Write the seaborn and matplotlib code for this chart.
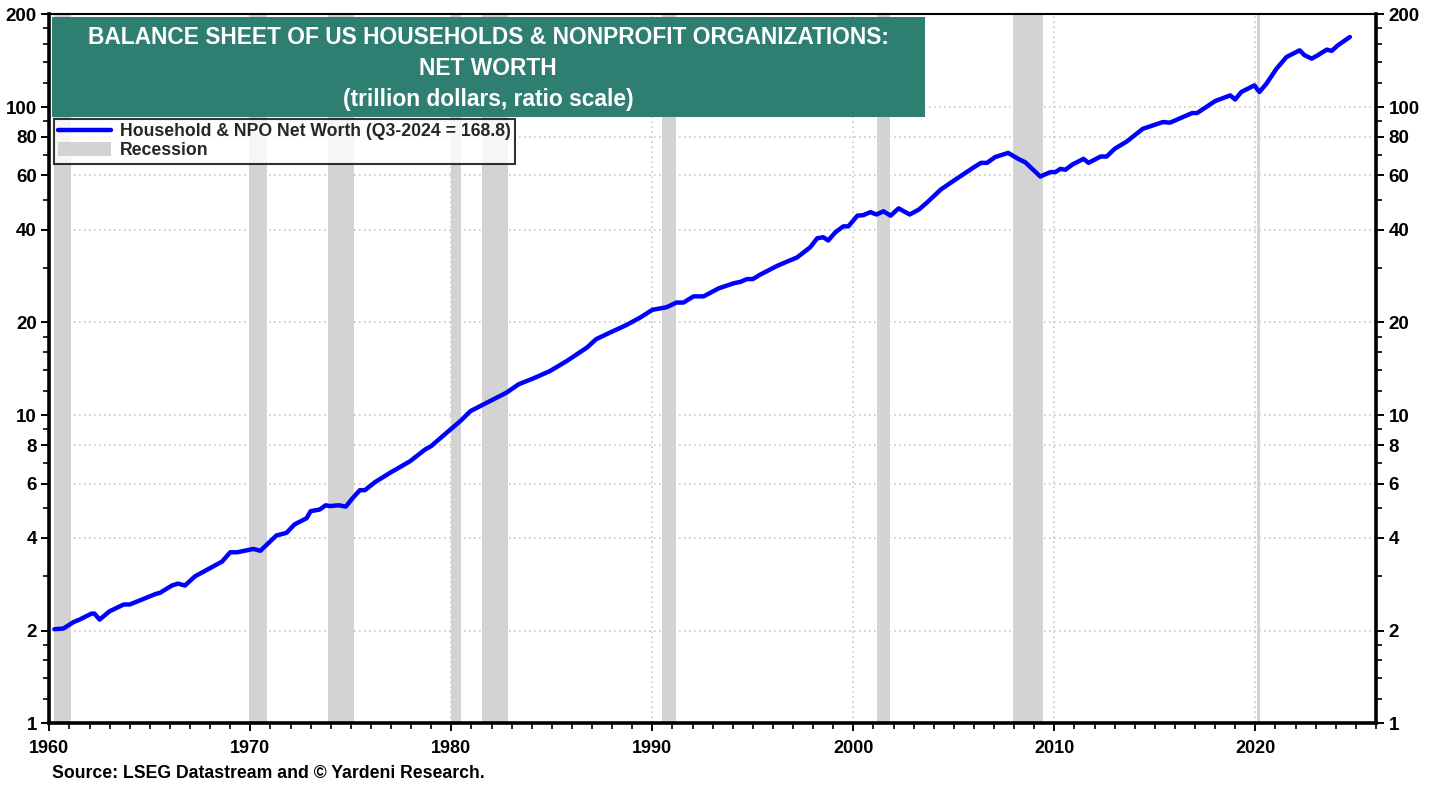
import numpy as np
import pandas as pd
import matplotlib
matplotlib.use("Agg")
from matplotlib import pyplot as plt
from matplotlib.lines import Line2D
from matplotlib.patches import Patch, Rectangle
from matplotlib.ticker import FixedLocator, FixedFormatter, NullFormatter
import seaborn as sns

# quarterly-ish readings (decimal year, trillion $)
dates = [
    1960.25, 1960.7, 1961.2, 1961.5, 1962.1, 1962.25, 1962.5, 1963.0, 1963.7, 1964.0,
    1965.3, 1965.5, 1966.1, 1966.4, 1966.75, 1967.25, 1968.15, 1968.6, 1969.0, 1969.35,
    1970.15, 1970.5, 1971.3, 1971.8, 1972.2, 1972.8, 1973.0, 1973.45, 1973.75, 1973.95,
    1974.4, 1974.75, 1975.1, 1975.45, 1975.7, 1976.2, 1976.95, 1977.95, 1978.7, 1979.0, 1979.8,
    1980.45, 1980.95, 1981.6, 1982.1, 1982.75, 1983.35, 1984.1, 1984.9, 1985.75, 1986.75,
    1987.2, 1987.9, 1988.7, 1989.4,
    1990.0, 1990.7, 1991.2, 1991.55, 1992.05, 1992.55, 1993.3, 1994.05, 1994.4, 1994.7,
    1995.0, 1995.35, 1996.2, 1996.7, 1997.2, 1997.85, 1998.2, 1998.5, 1998.75, 1999.1,
    1999.5, 1999.75,
    2000.2, 2000.5, 2000.85, 2001.15, 2001.5, 2001.85, 2002.25, 2002.8, 2003.25, 2003.65,
    2004.35, 2005.0, 2006.0, 2006.35, 2006.65, 2007.05, 2007.7, 2008.2, 2008.55, 2009.3, 2009.8,
    2010.05, 2010.3, 2010.55, 2010.9, 2011.45, 2011.7, 2012.3, 2012.6, 2013.0, 2013.6,
    2014.4, 2015.4, 2015.75, 2016.4, 2016.85, 2017.1, 2017.6, 2018.0, 2018.75, 2018.99,
    2019.3, 2019.95,
    2020.2, 2020.55, 2021.05, 2021.55, 2022.2, 2022.45, 2022.8, 2023.1, 2023.55, 2023.8,
    2024.1, 2024.7,
]
net_worth = [
    2.02, 2.03, 2.13, 2.17, 2.27, 2.27, 2.17, 2.31, 2.43, 2.43,
    2.63, 2.65, 2.80, 2.84, 2.80, 3.00, 3.23, 3.35, 3.59, 3.59,
    3.68, 3.63, 4.07, 4.15, 4.42, 4.63, 4.88, 4.94, 5.10, 5.07,
    5.10, 5.05, 5.39, 5.71, 5.71, 6.06, 6.50, 7.09, 7.74, 7.94, 8.81,
    9.57, 10.31, 10.84, 11.26, 11.84, 12.6, 13.18, 13.9, 15.0, 16.58,
    17.64, 18.55, 19.6, 20.75,
    21.97, 22.4, 23.2, 23.2, 24.3, 24.3, 25.8, 26.8, 27.1, 27.65,
    27.65, 28.55, 30.5, 31.5, 32.5, 35.05, 37.5, 37.8, 36.9, 39.2,
    41.0, 41.0,
    44.4, 44.6, 45.6, 44.8, 45.9, 44.4, 46.9, 44.8, 46.45, 48.9,
    54.0, 57.7, 63.8, 65.9, 65.9, 68.8, 71.0, 67.9, 66.2, 59.5, 61.5,
    61.5, 63.0, 62.6, 65.1, 67.9, 65.9, 69.1, 69.1, 73.2, 77.3,
    85.0, 89.4, 89.0, 92.8, 95.6, 95.6, 100.5, 104.6, 109.1, 105.8,
    111.9, 117.6,
    111.9, 119.1, 133.2, 145.4, 152.8, 147.2, 143.6, 147.2, 153.6, 152.2,
    158.6, 168.8,
]

recession_start = [1960.25, 1969.95, 1973.85, 1980.0, 1981.55, 1990.5, 2001.17, 2007.95, 2020.08]
recession_end = [1961.08, 1970.83, 1975.17, 1980.5, 1982.83, 1991.17, 2001.83, 2009.42, 2020.25]

y_ticks = [1, 2, 4, 6, 8, 10, 20, 40, 60, 80, 100, 200]
y_minor = [1.2, 1.4, 1.6, 1.8, 3, 5, 7, 9, 12, 14, 16, 18, 30, 50, 70, 90,
           120, 140, 160, 180]
x_ticks = [1960, 1970, 1980, 1990, 2000, 2010, 2020]

title_lines = ["BALANCE SHEET OF US HOUSEHOLDS & NONPROFIT ORGANIZATIONS:",
               "NET WORTH",
               "(trillion dollars, ratio scale)"]
line_label = "Household & NPO Net Worth (Q3-2024 = 168.8)"

df = pd.DataFrame({"date": dates, "value": net_worth})

sns.set_style("white")
plt.rcParams["font.family"] = ["Liberation Sans", "DejaVu Sans"]
plt.rcParams["font.weight"] = "bold"

fig = plt.figure(figsize=(14.38, 7.87), dpi=100)
ax = fig.add_axes([49.3 / 1438, 1 - 723.3 / 787, 1326.7 / 1438, 709 / 787])

# recession shading
for s, e in zip(recession_start, recession_end):
    ax.axvspan(s, e, color="#d3d3d3", lw=0, zorder=1)

sns.lineplot(data=df, x="date", y="value", ax=ax, color="#0000ff",
             linewidth=3.2, zorder=4, legend=False)

ax.set_yscale("log")
ax.set_xlim(1960, 2026)
ax.set_ylim(1, 200)

ax.yaxis.set_major_locator(FixedLocator(y_ticks))
ax.yaxis.set_major_formatter(FixedFormatter([str(v) for v in y_ticks]))
ax.yaxis.set_minor_locator(FixedLocator(y_minor))
ax.yaxis.set_minor_formatter(NullFormatter())
ax.xaxis.set_major_locator(FixedLocator(x_ticks))
ax.xaxis.set_minor_locator(FixedLocator(np.arange(1960, 2027, 1)))
ax.set_xticklabels([str(v) for v in x_ticks])

ax.grid(True, which="major", axis="both", color="#c8c8c8", linestyle=(0, (1, 2)),
        linewidth=1.2, zorder=2)
ax.set_axisbelow(True)

ax.tick_params(axis="both", which="major", direction="out", length=6, width=1.4,
               colors="black", pad=3)
ax.tick_params(axis="both", which="minor", direction="out", length=4, width=1.2,
               colors="black")
ax.tick_params(axis="y", which="both", left=True, right=True, labelleft=True,
               labelright=True, labelsize=13.5)
ax.tick_params(axis="x", which="both", bottom=True, top=False, labelsize=13, pad=6)
for lbl in ax.get_xticklabels() + ax.get_yticklabels():
    lbl.set_fontweight("bold")

for sp in ax.spines.values():
    sp.set_linewidth(2.6)
    sp.set_color("black")
ax.spines["top"].set_linewidth(1.5)

ax.set_xlabel("")
ax.set_ylabel("")

# title box
ax.add_patch(Rectangle((0.0018, 0.8551), 0.6583, 0.1407, transform=ax.transAxes,
                       facecolor="#2f7e72", edgecolor="none", zorder=6))
for txt, yy in zip(title_lines, [0.9675, 0.9238, 0.8801]):
    ax.text(0.3307, yy, txt, transform=ax.transAxes, ha="center", va="center",
            color="white", fontsize=16.4, fontweight="bold", zorder=7)

handles = [Line2D([0], [0], color="#0000ff", lw=3.2, label=line_label),
           Patch(facecolor="#d3d3d3", edgecolor="none", label="Recession")]
leg = ax.legend(handles=handles, loc="upper left", bbox_to_anchor=(0.0032, 0.853),
                frameon=True, fancybox=False, prop={"weight": "bold", "size": 12.7},
                handlelength=3.0, handleheight=0.9, borderpad=0.25, labelspacing=0.08,
                handletextpad=0.5, borderaxespad=0.0)
leg.get_frame().set_edgecolor("black")
leg.get_frame().set_linewidth(1.5)
leg.set_zorder(8)

fig.text(52 / 1438, 1 - 773 / 787, "Source: LSEG Datastream and \u00a9 Yardeni Research.",
         ha="left", va="center", fontsize=12.7, fontweight="bold", color="black")

fig.savefig("out.png", dpi=100, facecolor="white")
